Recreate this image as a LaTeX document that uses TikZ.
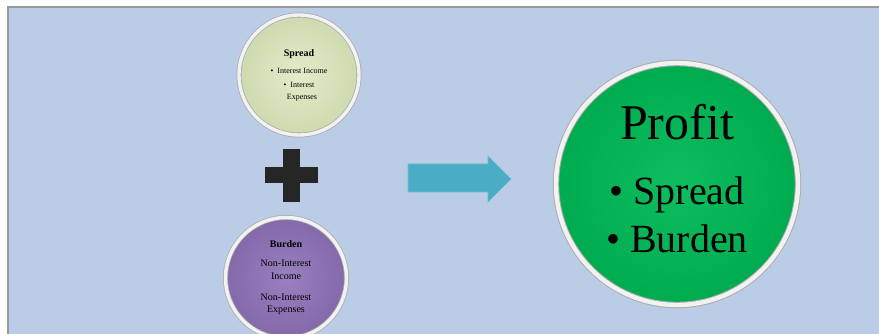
\documentclass[tikz,border=0pt]{standalone}
\usepackage{fontspec}
\setmainfont{Liberation Serif}
\usetikzlibrary{positioning}

\definecolor{panelblue}{RGB}{187,205,230}
\definecolor{spreadgreen}{RGB}{216,230,184}
\definecolor{burdenpurple}{RGB}{142,114,184}
\definecolor{profitgreen}{RGB}{0,186,86}
\definecolor{arrowaqua}{RGB}{75,172,198}
\definecolor{plusgray}{RGB}{38,38,38}

\newcommand{\smalltxt}{\fontsize{8}{12.5}\selectfont}
\newcommand{\midtxt}{\fontsize{10}{13}\selectfont}
\newcommand{\bigtxt}{\fontsize{40}{48}\selectfont}

\begin{document}
\begin{tikzpicture}[x=1pt, y=-1pt]
    % Styles
    \tikzstyle{bubble} = [circle, draw=gray!65, line width=0.8pt, double=white!90!gray, double distance=3.4pt, align=center, inner sep=0pt]
    \tikzstyle{blockarrow} = [fill=arrowaqua, draw=arrowaqua!80!white, line width=0.6pt]

    % Panel
    \clip (0,0) rectangle (879,334);
    \fill[white] (0,0) rectangle (879,334);
    \draw[fill=panelblue, draw=gray!80, line width=1.2pt] (8,7) rectangle (890,345);

    % Spread
    \node[bubble, inner color=spreadgreen!75!white, outer color=spreadgreen!95!black, minimum size=120] (spread) at (299,75)
        {\midtxt\textbf{Spread}\\[5pt]
         \smalltxt\textbullet\ \ Interest Income\\[2pt]
         \smalltxt\textbullet\ \ Interest\\
         \smalltxt\ \ \ Expenses};

    % Plus
    \fill[plusgray] (283,149) rectangle (300,202);
    \fill[plusgray] (265,167) rectangle (318,183);

    % Burden
    \node[bubble, inner color=burdenpurple!90!white, outer color=burdenpurple!92!black, minimum size=121] (burden) at (286,278)
        {\midtxt\textbf{Burden}\\[7pt]
         \midtxt Non-Interest\\[1pt]
         \midtxt Income\\[9pt]
         \midtxt Non-Interest\\
         \midtxt Expenses};

    % Arrow
    \fill[blockarrow] (408,164) -- (488,164) -- (488,156) -- (511,179)
        -- (488,202) -- (488,192) -- (408,192) -- cycle;

    % Profit
    \node[bubble, line width=1pt, double distance=4.4pt, inner color=profitgreen!95!white, outer color=profitgreen!92!black, minimum size=242, text depth=11pt] (profit) at (677,184)
        {\fontsize{50}{58}\selectfont Profit\\[35pt]
         \bigtxt\textbullet\ Spread\\[11pt]
         \bigtxt\textbullet\ Burden};
\end{tikzpicture}
\end{document}
